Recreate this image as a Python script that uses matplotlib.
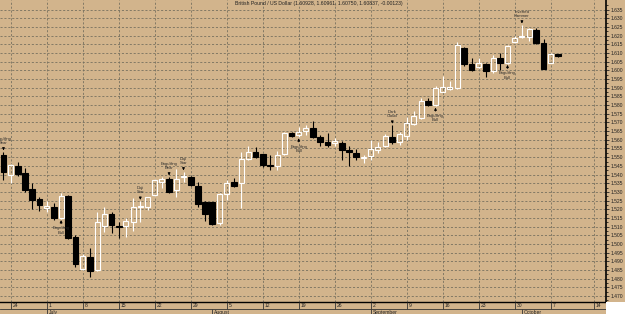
import numpy as np
import pandas as pd
import matplotlib
matplotlib.use("Agg")
import matplotlib.pyplot as plt
from matplotlib.patches import Rectangle

plt.rcParams['font.family'] = ['Liberation Sans', 'DejaVu Sans']

# daily GBP/USD candles, 21 Jun 2013 - 8 Oct 2013 (weekdays)
dates = pd.bdate_range("2013-06-21", "2013-10-08")
opens = [1.5513, 1.5398, 1.5450, 1.5408, 1.5317, 1.5259, 1.5206, 1.5212, 1.5148, 1.5277,
         1.5042, 1.4854, 1.4927, 1.4850, 1.5104, 1.5173, 1.5102, 1.5104, 1.5125, 1.5212,
         1.5215, 1.5282, 1.5359, 1.5373, 1.5311, 1.5385, 1.5388, 1.5336, 1.5240, 1.5240,
         1.5119, 1.5286, 1.5359, 1.5350, 1.5488, 1.5532, 1.5517, 1.5455, 1.5450, 1.5517,
         1.5640, 1.5625, 1.5652, 1.5667, 1.5615, 1.5590, 1.5584, 1.5581, 1.5542, 1.5526,
         1.5494, 1.5507, 1.5542, 1.5565, 1.5615, 1.5590, 1.5623, 1.5692, 1.5725, 1.5826,
         1.5801, 1.5878, 1.5892, 1.5898, 1.6128, 1.6036, 1.6019, 1.6038, 1.5994, 1.6071,
         1.6042, 1.6163, 1.6190, 1.6192, 1.6234, 1.6157, 1.6045, 1.60928]
highs = [1.5532, 1.5460, 1.5475, 1.5440, 1.5350, 1.5273, 1.5248, 1.5235, 1.5296, 1.5280,
         1.5052, 1.4942, 1.4979, 1.5186, 1.5215, 1.5186, 1.5129, 1.5152, 1.5263, 1.5248,
         1.5272, 1.5373, 1.5388, 1.5388, 1.5431, 1.5417, 1.5392, 1.5356, 1.5245, 1.5243,
         1.5294, 1.5369, 1.5379, 1.5532, 1.5565, 1.5558, 1.5520, 1.5513, 1.5538, 1.5646,
         1.5647, 1.5676, 1.5686, 1.5709, 1.5628, 1.5638, 1.5609, 1.5594, 1.5562, 1.5545,
         1.5513, 1.5600, 1.5590, 1.5634, 1.5686, 1.5647, 1.5731, 1.5763, 1.5840, 1.5840,
         1.5907, 1.5969, 1.5936, 1.6161, 1.6136, 1.6071, 1.6071, 1.6044, 1.6090, 1.6100,
         1.6147, 1.6195, 1.6263, 1.6244, 1.6244, 1.6180, 1.6102, 1.60961]
lows = [1.5369, 1.5350, 1.5392, 1.5302, 1.5200, 1.5192, 1.5186, 1.5138, 1.5144, 1.5027,
        1.4869, 1.4850, 1.4811, 1.4844, 1.5071, 1.5065, 1.5036, 1.5039, 1.5077, 1.5129,
        1.5196, 1.5277, 1.5321, 1.5292, 1.5273, 1.5359, 1.5334, 1.5215, 1.5134, 1.5110,
        1.5110, 1.5254, 1.5330, 1.5206, 1.5484, 1.5496, 1.5446, 1.5427, 1.5427, 1.5513,
        1.5617, 1.5615, 1.5628, 1.5611, 1.5565, 1.5558, 1.5565, 1.5484, 1.5450, 1.5484,
        1.5465, 1.5484, 1.5523, 1.5561, 1.5577, 1.5571, 1.5600, 1.5686, 1.5719, 1.5792,
        1.5792, 1.5876, 1.5888, 1.5894, 1.6026, 1.5994, 1.6013, 1.5961, 1.5984, 1.6003,
        1.6038, 1.6157, 1.6186, 1.6167, 1.6153, 1.6009, 1.6044, 1.60750]
closes = [1.5417, 1.5455, 1.5404, 1.5311, 1.5254, 1.5227, 1.5221, 1.5148, 1.5277, 1.5033,
          1.4885, 1.4931, 1.4846, 1.5129, 1.5173, 1.5108, 1.5098, 1.5133, 1.5212, 1.5219,
          1.5269, 1.5369, 1.5373, 1.5301, 1.5373, 1.5392, 1.5340, 1.5231, 1.5173, 1.5115,
          1.5286, 1.5350, 1.5336, 1.5488, 1.5532, 1.5503, 1.5455, 1.5450, 1.5513, 1.5638,
          1.5623, 1.5647, 1.5667, 1.5615, 1.5590, 1.5571, 1.5594, 1.5542, 1.5532, 1.5503,
          1.5503, 1.5546, 1.5558, 1.5619, 1.5590, 1.5634, 1.5699, 1.5738, 1.5826, 1.5801,
          1.5901, 1.5904, 1.5904, 1.6148, 1.6036, 1.6003, 1.6042, 1.5994, 1.6071, 1.6042,
          1.6142, 1.6186, 1.6199, 1.6238, 1.6157, 1.6009, 1.6096, 1.60837]

pattern_names = ["Engulfing\nBear", "Engulfing\nBull", "Doji\nStar", "Engulfing\nBear",
                 "Doji\nStar", "Engulfing\nBull", "Dark\nCloud", "Engulfing\nBull",
                 "Engulfing\nBull", "Inverted\nHammer"]
pattern_dates = ["2013-06-21", "2013-07-03", "2013-07-18", "2013-07-24", "2013-07-26",
                 "2013-08-19", "2013-09-05", "2013-09-13", "2013-09-27", "2013-10-01"]
pattern_above = [True, False, True, True, True, False, True, False, False, True]

title = "British Pound / US Dollar (1.60928, 1.60961, 1.60750, 1.60837, -0.00123)"
month_names = {7: "July", 8: "August", 9: "September", 10: "October"}

bg = "#D2B48C"
grid_c = "#76705f"
px = 0.72  # one pixel in points at dpi 100

o = np.array(opens)
h = np.array(highs)
l = np.array(lows)
c = np.array(closes)
x = np.arange(len(dates))
up = c >= o
lo_body = np.minimum(o, c)
hi_body = np.maximum(o, c)

fig = plt.figure(figsize=(6.25, 3.14), dpi=100, facecolor=bg)
ax = fig.add_axes([0, 12 / 314, 606 / 625, 302 / 314])
ax.set_facecolor(bg)
xlim = (-0.486, 83.68)
ax.set_xlim(*xlim)
ax.set_ylim(1.4666, 1.6405)

# grid
mondays = [i for i, d in enumerate(dates) if d.weekday() == 0] + [len(dates) + 4]
yt = np.round(np.arange(1.470, 1.6351, 0.005), 3)
for xv in mondays:
    ax.axvline(xv, color=grid_c, lw=0.6, ls=(0, (2.5, 2.2)), zorder=0)
for yv in yt:
    ax.axhline(yv, color=grid_c, lw=0.6, ls=(0, (2.5, 2.2)), zorder=0)

# wicks
ax.vlines(x[~up], l[~up], h[~up], color="black", lw=0.8, zorder=2)
ax.vlines(x[up], l[up], lo_body[up], color="white", lw=0.8, zorder=2)
ax.vlines(x[up], hi_body[up], h[up], color="white", lw=0.8, zorder=2)
# bodies
ax.bar(x[~up], hi_body[~up] - lo_body[~up], bottom=lo_body[~up], width=0.78,
       color="black", edgecolor="black", lw=0.8, zorder=3)
ax.bar(x[up], hi_body[up] - lo_body[up], bottom=lo_body[up], width=0.72,
       facecolor="none", edgecolor="white", lw=0.8, zorder=3)

# pattern labels
for name, d, above in zip(pattern_names, pattern_dates, pattern_above):
    i = dates.get_loc(pd.Timestamp(d))
    if above:
        ax.annotate(name, xy=(i, h[i]), xytext=(0, 6.5 * px), textcoords="offset points",
                    ha="center", va="bottom", fontsize=3.0, color="#2a2a2a",
                    linespacing=1.1,
                    arrowprops=dict(arrowstyle="-|>", color="black", lw=0.6,
                                    mutation_scale=3.5, shrinkA=0, shrinkB=0.8))
    else:
        ax.annotate(name, xy=(i, l[i]), xytext=(0, -7.5 * px), textcoords="offset points",
                    ha="center", va="top", fontsize=3.0, color="#2a2a2a",
                    linespacing=1.1,
                    arrowprops=dict(arrowstyle="-|>", color="black", lw=0.6,
                                    mutation_scale=3.5, shrinkA=0, shrinkB=0.8))

ax.text(0.526, 0.988, title, transform=ax.transAxes, ha="center", va="center",
        fontsize=3.7, color="#222222")

# axes styling
for s in ["left", "top"]:
    ax.spines[s].set_visible(False)
ax.spines["right"].set_linewidth(1.2)
ax.spines["bottom"].set_linewidth(1.0)
ax.yaxis.tick_right()
ax.set_yticks(yt)
ax.set_yticklabels([f"{v:.3f}" for v in yt])
ax.set_yticks(np.arange(1.4675, 1.64, 0.005), minor=True)
ax.tick_params(axis="y", which="major", length=2.2, width=0.6, pad=1.2,
               labelsize=3.6, colors="#222222")
ax.tick_params(axis="y", which="minor", length=1.2, width=0.5)
ax.set_xticks([])

# date strip
ax2 = fig.add_axes([0, 0, 606 / 625, 12 / 314])
ax2.set_xlim(*xlim)
ax2.set_ylim(0, 12)
ax2.axis("off")
ax2.axhline(5, color="#333333", lw=0.6)
for xv in mondays:
    ax2.vlines(xv, 5, 12, color="#333333", lw=0.6)
    if xv < len(dates):
        lbl = str(dates[xv].day)
    else:
        lbl = str((dates[-1] + pd.Timedelta(days=6)).day)
    ax2.text(xv + 0.25, 8.6, lbl, ha="left", va="center", fontsize=3.6, color="#222222")
for i in range(1, len(dates)):
    if dates[i].month != dates[i - 1].month:
        ax2.vlines(i, 0, 5, color="#333333", lw=0.6)
        ax2.text(i + 0.25, 1.6, month_names[dates[i].month], ha="left", va="center",
                 fontsize=3.6, color="#222222")

fig.patches.append(Rectangle((606 / 625, 0), 19 / 625, 12 / 314, transform=fig.transFigure,
                             facecolor="white", edgecolor="none", zorder=5))

fig.savefig("out.png", dpi=100, facecolor=bg)
